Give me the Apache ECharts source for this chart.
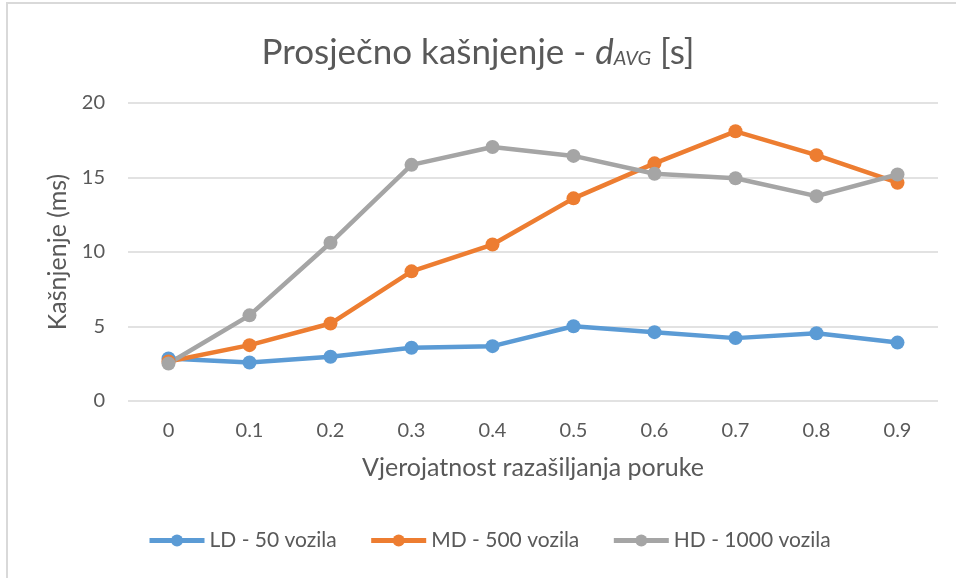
<!DOCTYPE html>
<html>
<head>
<meta charset="utf-8">
<script src="https://cdn.jsdelivr.net/npm/echarts@6/dist/echarts.min.js"></script>
<style>
html, body { margin: 0; padding: 0; background: #fff; }
#chart { width: 956px; height: 578px; }
</style>
</head>
<body>
<div id="chart"></div>
<script>
var categories = ['0', '0.1', '0.2', '0.3', '0.4', '0.5', '0.6', '0.7', '0.8', '0.9'];
var ldValues = [2.85, 2.58, 2.97, 3.57, 3.68, 5.02, 4.62, 4.22, 4.55, 3.92];
var mdValues = [2.65, 3.75, 5.2, 8.7, 10.5, 13.6, 15.95, 18.1, 16.5, 14.65];
var hdValues = [2.52, 5.75, 10.62, 15.85, 17.05, 16.45, 15.25, 14.95, 13.75, 15.2];

var font = 'Lato, "Open Sans", sans-serif';
var textColor = '#595959';

var chart = echarts.init(document.getElementById('chart'));

function lineSeries(name, values, color) {
    return {
        name: name,
        type: 'line',
        data: values,
        symbol: 'circle',
        symbolSize: 14,
        itemStyle: { color: color },
        lineStyle: { color: color, width: 4.5 }
    };
}

var option = {
    animation: false,
    color: ['#5B9BD5', '#ED7D31', '#A5A5A5'],
    graphic: [{
        type: 'rect',
        shape: { x: 7, y: 3, width: 960, height: 590 },
        style: { fill: 'none', stroke: '#d9d9d9', lineWidth: 2 }
    }],
    title: {
        text: 'Prosječno kašnjenje - {d|d}{sub|AVG} [s]',
        left: 'center',
        top: 30,
        textStyle: {
            fontFamily: font,
            fontSize: 35,
            fontWeight: 'normal',
            color: textColor,
            rich: {
                d: { fontFamily: font, fontSize: 35, fontStyle: 'italic', color: textColor },
                sub: { fontFamily: font, fontSize: 20, fontStyle: 'italic', color: textColor, padding: [12, 0, 0, 0] }
            }
        }
    },
    legend: {
        bottom: 22,
        left: 142,
        itemWidth: 55,
        itemHeight: 15,
        itemGap: 32,
        lineStyle: { width: 5 },
        textStyle: { fontFamily: font, fontSize: 21, color: textColor }
    },
    grid: { left: 128, right: 18, top: 103, bottom: 177 },
    xAxis: {
        type: 'category',
        data: categories,
        name: 'Vjerojatnost razašiljanja poruke',
        nameLocation: 'middle',
        nameGap: 54,
        nameTextStyle: { fontFamily: font, fontSize: 25, color: textColor },
        axisLine: { show: false },
        axisTick: { show: false },
        axisLabel: { fontFamily: font, fontSize: 20, color: textColor, margin: 20 }
    },
    yAxis: {
        type: 'value',
        min: 0,
        max: 20,
        interval: 5,
        name: 'Kašnjenje (ms)',
        nameLocation: 'middle',
        nameGap: 58,
        nameTextStyle: { fontFamily: font, fontSize: 25, color: textColor },
        axisLine: { show: false },
        axisTick: { show: false },
        axisLabel: { fontFamily: font, fontSize: 20, color: textColor, margin: 23 },
        splitLine: { lineStyle: { color: '#d9d9d9', width: 1.5 } }
    },
    series: [
        lineSeries('LD - 50 vozila', ldValues, '#5B9BD5'),
        lineSeries('MD - 500 vozila', mdValues, '#ED7D31'),
        lineSeries('HD - 1000 vozila', hdValues, '#A5A5A5')
    ]
};

chart.setOption(option);
</script>
</body>
</html>
